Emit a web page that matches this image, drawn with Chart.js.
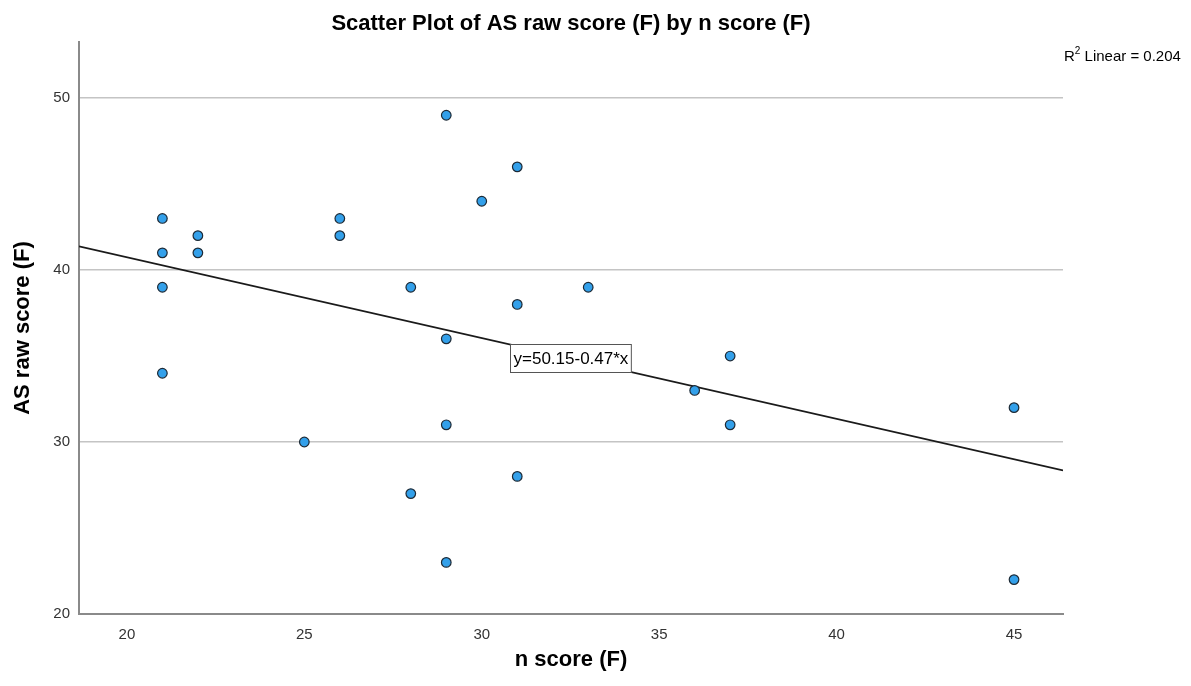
<!DOCTYPE html>
<html>
<head>
<meta charset="utf-8">
<script src="https://cdn.jsdelivr.net/npm/chart.js@4"></script>
<style>
  html, body { margin: 0; padding: 0; background: #fff; overflow: hidden; }
  canvas { display: block; }
</style>
</head>
<body>
<canvas id="scatter" width="1191" height="686"></canvas>
<script>
// n score (F) vs AS raw score (F)
const nScore = [21, 21, 21, 21, 22, 22, 25, 26, 26, 28, 28, 29, 29, 29, 29, 30, 31, 31, 31, 33, 36, 37, 37, 45, 45];
const asScore = [43, 41, 39, 34, 42, 41, 30, 43, 42, 39, 27, 49, 36, 31, 23, 44, 46, 38, 28, 39, 33, 35, 31, 32, 22];

// fit line end points (y = 50.15 - 0.47x)
const fitX = [18.65, 46.38];
const fitY = [41.38, 28.35];

const xTicks = [20, 25, 30, 35, 40, 45];
const yTicks = [20, 30, 40, 50];

const chartTitle = 'Scatter Plot of AS raw score (F) by n score (F)';
const xTitle = 'n score (F)';
const yTitle = 'AS raw score (F)';
const fitLabel = 'y=50.15-0.47*x';
const r2Value = '0.204';

const FONT = '"Liberation Sans", Arial, sans-serif';

const points = nScore.map((x, i) => ({ x: x, y: asScore[i] }));
const fitLine = fitX.map((x, i) => ({ x: x, y: fitY[i] }));

// texts drawn by hand: title, axis titles, R2 note, equation box
const textPlugin = {
  id: 'spssText',
  afterDraw(chart) {
    const c = chart.ctx;
    const area = chart.chartArea;
    const xs = chart.scales.x, ys = chart.scales.y;
    const midX = (area.left + area.right) / 2;
    c.save();
    c.fillStyle = '#000';
    c.textBaseline = 'middle';

    // title
    c.font = 'bold 22px ' + FONT;
    c.textAlign = 'center';
    c.fillText(chartTitle, midX, 24);

    // x axis title
    c.font = 'bold 22px ' + FONT;
    c.fillText(xTitle, midX, 660);

    // y axis title
    c.save();
    c.translate(23, (area.top + area.bottom) / 2);
    c.rotate(-Math.PI / 2);
    c.fillText(yTitle, 0, 0);
    c.restore();

    // R2 linear
    c.textAlign = 'left';
    c.font = '15px ' + FONT;
    let tx = area.right + 1;
    c.fillText('R', tx, 57);
    tx += c.measureText('R').width;
    c.font = '10px ' + FONT;
    c.fillText('2', tx, 51);
    tx += c.measureText('2').width;
    c.font = '15px ' + FONT;
    c.fillText(' Linear = ' + r2Value, tx, 57);

    // equation box on the fit line
    c.font = '17px ' + FONT;
    const w = c.measureText(fitLabel).width + 6;
    const bx = Math.round(xs.getPixelForValue(30.8)) + 0.5;
    const by = Math.round(ys.getPixelForValue(35.7)) + 0.5;
    c.fillStyle = '#fff';
    c.fillRect(bx, by, w, 28);
    c.strokeStyle = '#555';
    c.lineWidth = 1;
    c.strokeRect(bx, by, w, 28);
    c.fillStyle = '#000';
    c.fillText(fitLabel, bx + 3, by + 15);
    c.restore();
  }
};

new Chart(document.getElementById('scatter'), {
  type: 'scatter',
  data: {
    datasets: [
      {
        label: 'fit',
        type: 'line',
        data: fitLine,
        borderColor: '#1a1a1a',
        borderWidth: 1.6,
        pointRadius: 0,
        fill: false,
        order: 2
      },
      {
        label: 'AS raw score (F)',
        data: points,
        backgroundColor: '#33a0ea',
        borderColor: '#1d2a36',
        borderWidth: 1.2,
        pointRadius: 4.8,
        order: 1
      }
    ]
  },
  options: {
    responsive: false,
    animation: false,
    devicePixelRatio: 1,
    layout: { padding: { top: 42, right: 128, bottom: 0, left: 0 } },
    plugins: {
      legend: { display: false },
      tooltip: { enabled: false },
      title: { display: false }
    },
    scales: {
      x: {
        type: 'linear',
        min: 18.65,
        max: 46.38,
        afterFit: s => { s.height = 72; },
        afterBuildTicks: s => { s.ticks = xTicks.map(v => ({ value: v })); },
        grid: { display: false, drawTicks: false },
        border: { display: true, color: '#8a8a8a', width: 2 },
        ticks: { color: '#333', font: { family: FONT, size: 15 }, padding: 12, maxRotation: 0, autoSkip: false }
      },
      y: {
        type: 'linear',
        min: 20,
        max: 53.26,
        afterFit: s => { s.width = 79; },
        afterBuildTicks: s => { s.ticks = yTicks.map(v => ({ value: v })); },
        grid: { color: '#c4c4c4', lineWidth: 1.5, drawTicks: false },
        border: { display: true, color: '#8a8a8a', width: 2 },
        ticks: { color: '#333', font: { family: FONT, size: 15 }, padding: 9 }
      }
    }
  },
  plugins: [textPlugin]
});
</script>
</body>
</html>
